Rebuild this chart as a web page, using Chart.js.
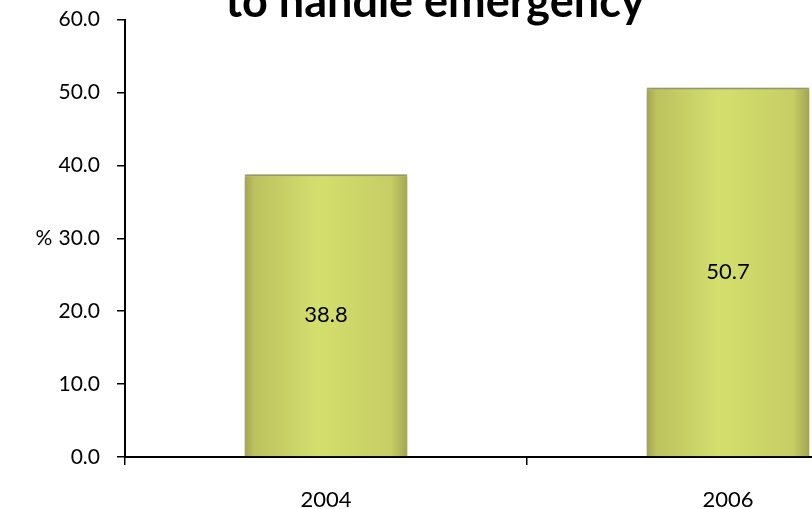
<!DOCTYPE html>
<html>
<head>
<meta charset="utf-8">
<script src="https://cdn.jsdelivr.net/npm/chart.js@4"></script>
<style>
  html, body { margin: 0; padding: 0; background: #fff; overflow: hidden; }
  .chart-box { position: absolute; left: 0; top: -10px; width: 940px; height: 519px; }
</style>
</head>
<body>
<div class="chart-box"><canvas class="emergency"></canvas></div>
<script>
const years = ["2004", "2006"];
const percentValues = [38.8, 50.7];
const yTicks = [0, 10, 20, 30, 40, 50, 60];
const chartTitle = "to handle emergency";
const axisLabel = "%";
const fontName = "Lato";

const chartEmergency = document.querySelector(".emergency");

// olive bar fill, darker at the sides
function barGradient(context) {
  const chart = context.chart;
  if (!chart.chartArea) return "#cbd667";
  const xScale = chart.scales.x;
  const centre = xScale.getPixelForValue(context.dataIndex);
  const half = (xScale.width / years.length) * 0.405 / 2;
  const g = chart.ctx.createLinearGradient(centre - half, 0, centre + half, 0);
  g.addColorStop(0, "#a3a453");
  g.addColorStop(0.06, "#bcc25f");
  g.addColorStop(0.45, "#d3df6d");
  g.addColorStop(0.9, "#c6ce64");
  g.addColorStop(1, "#a3a453");
  return g;
}

// shadow under the bars
const barShadow = {
  id: "barShadow",
  beforeDatasetsDraw(chart) {
    const ctx = chart.ctx;
    ctx.save();
    ctx.shadowColor = "rgba(0,0,0,0.55)";
    ctx.shadowBlur = 7;
    ctx.shadowOffsetX = 0;
    ctx.shadowOffsetY = 3;
  },
  afterDatasetsDraw(chart) {
    chart.ctx.restore();
  }
};

// values inside bars, title and % label
const extraText = {
  id: "extraText",
  afterDraw(chart) {
    const ctx = chart.ctx;
    ctx.save();
    ctx.fillStyle = "#000";
    ctx.textAlign = "center";
    ctx.textBaseline = "middle";
    ctx.font = "22px " + fontName;
    chart.getDatasetMeta(0).data.forEach((bar, i) => {
      ctx.fillText(percentValues[i].toFixed(1), bar.x, (bar.y + bar.base) / 2);
    });
    ctx.font = "21px " + fontName;
    ctx.fillText(axisLabel, 44, chart.scales.y.getPixelForValue(30));
    ctx.font = "bold 45px " + fontName;
    ctx.textBaseline = "alphabetic";
    ctx.fillText(chartTitle, 435, 27);
    ctx.restore();
  }
};

function createChart(chartEmergency) {
  new Chart(chartEmergency, {
    type: "bar",
    data: {
      labels: years,
      datasets: [{
        data: percentValues,
        backgroundColor: barGradient,
        borderColor: "#a2a26c",
        borderWidth: { top: 2, left: 0, right: 0, bottom: 0 },
        borderSkipped: "bottom",
        barPercentage: 0.9,
        categoryPercentage: 0.45
      }]
    },
    options: {
      responsive: true,
      maintainAspectRatio: false,
      animation: false,
      layout: { padding: { top: 5, right: 11, left: 0, bottom: 0 } },
      plugins: {
        legend: { display: false },
        tooltip: { enabled: false }
      },
      scales: {
        x: {
          grid: {
            offset: true,
            drawOnChartArea: false,
            drawTicks: true,
            tickLength: 8,
            color: "#000",
            lineWidth: 1.5
          },
          border: { color: "#000", width: 2 },
          ticks: { color: "#000", font: { family: fontName, size: 22 }, padding: 22 },
          afterFit(scale) { scale.height = 52; }
        },
        y: {
          min: 0,
          max: 60,
          afterBuildTicks(scale) { scale.ticks = yTicks.map(v => ({ value: v })); },
          grid: {
            drawOnChartArea: false,
            drawTicks: true,
            tickLength: 8,
            color: "#000",
            lineWidth: 1.5
          },
          border: { color: "#000", width: 2 },
          ticks: {
            color: "#000",
            font: { family: fontName, size: 21 },
            padding: 17,
            callback: v => v.toFixed(1)
          },
          afterFit(scale) { scale.width = 125; }
        }
      }
    },
    plugins: [barShadow, extraText]
  });
}

createChart(chartEmergency);
</script>
</body>
</html>
